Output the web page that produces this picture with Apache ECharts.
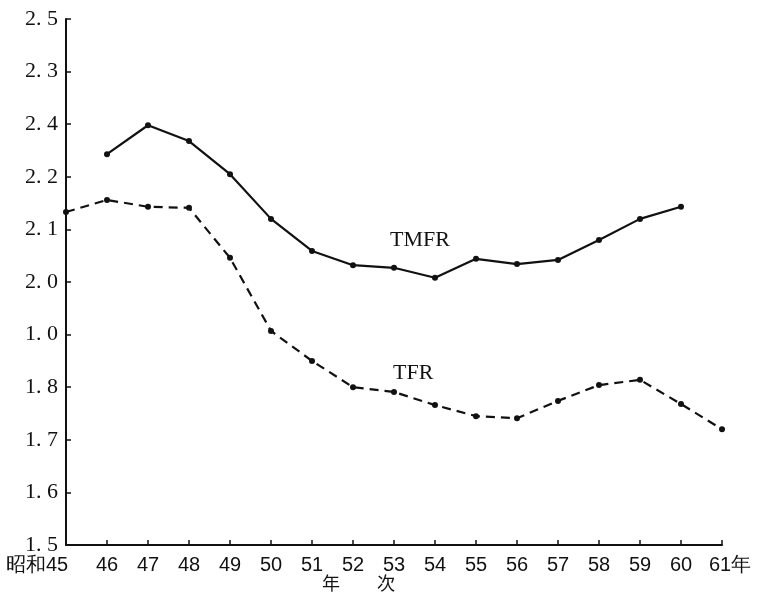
<!DOCTYPE html>
<html><head><meta charset="utf-8">
<script src="https://cdn.jsdelivr.net/npm/echarts@6/dist/echarts.min.js"></script>
<style>html,body{margin:0;padding:0;background:#fff}#c{width:765px;height:610px}</style>
</head><body><div id="c"></div>
<script>
var years = ['45','46','47','48','49','50','51','52','53','54','55','56','57','58','59','60','61'];
var tmfr = [null,2.243,2.298,2.268,2.205,2.120,2.059,2.032,2.027,2.008,2.044,2.034,2.042,2.080,2.120,2.143,null];
var tfr = [2.133,2.156,2.143,2.141,2.046,1.907,1.850,1.800,1.791,1.766,1.745,1.741,1.774,1.804,1.814,1.768,1.720];
var yTickLabels = ['1. 5','1. 6','1. 7','1. 8','1. 0','2. 0','2. 1','2. 2','2. 4','2. 3','2. 5'];

var chart = echarts.init(document.getElementById('c'));
chart.setOption({
  backgroundColor: '#fff',
  animation: false,
  grid: {left: 66, right: 43, top: 19, bottom: 65},
  xAxis: {
    type: 'category', data: years, boundaryGap: false,
    axisLine: {lineStyle: {color: '#111', width: 2}},
    axisTick: {inside: true, length: 5, lineStyle: {color: '#111', width: 1.5}},
    axisLabel: {
      color: '#111', fontSize: 20, fontFamily: 'Liberation Sans', margin: 10, interval: 0,
      formatter: function (v, i) {
        if (i === 0) return '{f|昭和' + v + '}';
        if (i === years.length - 1) return '{l|' + v + '年}';
        return v;
      },
      rich: {
        f: {fontSize: 20, fontFamily: 'Liberation Sans', color: '#111', padding: [0, 58, 0, 0]},
        l: {fontSize: 20, fontFamily: 'Liberation Sans', color: '#111', padding: [0, 0, 0, 16]}
      }
    },
    splitLine: {show: false}
  },
  yAxis: {
    type: 'value', min: 1.5, max: 2.5, interval: 0.1,
    axisLine: {show: true, lineStyle: {color: '#111', width: 2}},
    axisTick: {show: true, inside: true, length: 5, lineStyle: {color: '#111', width: 1.5}},
    axisLabel: {
      color: '#111', fontSize: 22, fontFamily: 'Liberation Serif', margin: 8,
      formatter: function (v) { return yTickLabels[Math.round((v - 1.5) * 10)]; }
    },
    splitLine: {show: false}
  },
  series: [
    {name: 'TMFR', type: 'line', data: tmfr, connectNulls: false,
     symbol: 'circle', symbolSize: 6,
     itemStyle: {color: '#111'}, lineStyle: {color: '#111', width: 2.2}},
    {name: 'TFR', type: 'line', data: tfr,
     symbol: 'circle', symbolSize: 6,
     itemStyle: {color: '#111'}, lineStyle: {color: '#111', width: 2.2, type: [9, 6]}}
  ],
  graphic: [
    {type: 'text', left: 390, top: 229, style: {text: 'TMFR', font: '22px "Liberation Serif"', fill: '#111'}},
    {type: 'text', left: 393, top: 362, style: {text: 'TFR', font: '22px "Liberation Serif"', fill: '#111'}},
    {type: 'text', left: 322, top: 574, style: {text: '年', font: '18px "Noto Sans CJK JP"', fill: '#111'}},
    {type: 'text', left: 377, top: 574, style: {text: '次', font: '18px "Noto Sans CJK JP"', fill: '#111'}}
  ]
});
</script></body></html>
